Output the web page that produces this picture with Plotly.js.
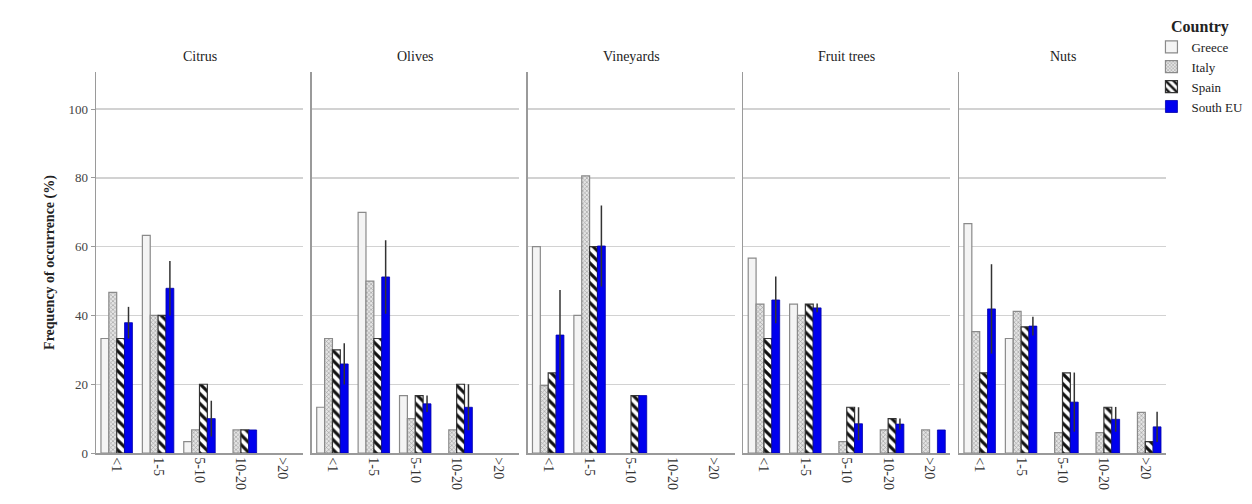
<!DOCTYPE html>
<html>
<head>
<meta charset="utf-8">
<script src="https://cdn.plot.ly/plotly-3.0.1.min.js"></script>
<style>html,body{margin:0;padding:0;background:#fff;}#chart{width:1252px;height:504px;}</style>
</head>
<body>
<div id="chart"></div>
<script>
// Data
const categories = ['<1', '1-5', '5-10', '10-20', '>20'];
const crops = ['Citrus', 'Olives', 'Vineyards', 'Fruit trees', 'Nuts'];
const countries = ['Greece', 'Italy', 'Spain', 'South EU'];
// values per crop (rows) per size class (columns); 0 = no bar
const greece = [
  [33.3, 63.3, 3.3, 0, 0],
  [13.3, 70.0, 16.7, 0, 0],
  [60.0, 40.0, 0, 0, 0],
  [56.7, 43.3, 0, 0, 0],
  [66.7, 33.3, 0, 0, 0]
];
const italy = [
  [46.7, 40.0, 6.7, 6.7, 0],
  [33.3, 50.0, 10.0, 6.7, 0],
  [19.6, 80.6, 0, 0, 0],
  [43.3, 40.0, 3.3, 6.7, 6.7],
  [35.3, 41.2, 5.9, 5.9, 11.8]
];
const spain = [
  [33.3, 40.0, 20.0, 6.7, 0],
  [30.0, 33.3, 16.7, 20.0, 0],
  [23.3, 60.0, 16.7, 0, 0],
  [33.3, 43.3, 13.3, 10.0, 0],
  [23.3, 36.7, 23.3, 13.3, 3.3]
];
const southEU = [
  [37.9, 47.9, 10.0, 6.7, 0],
  [25.9, 51.2, 14.3, 13.3, 0],
  [34.3, 60.2, 16.7, 0, 0],
  [44.5, 42.2, 8.5, 8.4, 6.7],
  [41.9, 36.9, 14.8, 9.8, 7.6]
];
const southEUError = [
  [4.6, 7.9, 5.2, 0, 0],
  [6.0, 10.7, 2.4, 6.7, 0],
  [13.1, 11.8, 0, 0, 0],
  [6.8, 1.3, 4.8, 1.6, 0],
  [13.0, 2.7, 8.6, 3.6, 4.4]
];

const serif = 'Liberation Serif, Times New Roman, serif';
const styles = [
  {color: '#f4f4f4', line: {color: '#8a8a8a', width: 1.2}},
  {color: '#d8d8d8', line: {color: '#8a8a8a', width: 1.2},
   pattern: {shape: 'x', fgcolor: '#9a9a9a', bgcolor: '#e4e4e4', size: 3, solidity: 0.35}},
  {color: '#ffffff', line: {color: '#333333', width: 1.2},
   pattern: {shape: '\\', fgcolor: '#111111', bgcolor: '#ffffff', size: 7, solidity: 0.45}},
  {color: '#0000ee', line: {color: '#0000aa', width: 0.8}}
];
const series = [greece, italy, spain, southEU];

const traces = [];
const layout = {
  width: 1252, height: 504,
  margin: {l: 96, r: 86, t: 72, b: 51, autoexpand: false},
  paper_bgcolor: '#ffffff', plot_bgcolor: '#ffffff',
  barmode: 'group', bargap: 0.24, bargroupgap: 0,
  font: {family: serif, color: '#333', size: 12},
  showlegend: true,
  legend: {
    x: 0.9864, xanchor: 'left', y: 1.16, yanchor: 'top',
    title: {text: '<b>Country</b>', side: 'top center', font: {family: serif, size: 16, color: '#222'}},
    font: {family: serif, size: 13, color: '#222'},
    tracegroupgap: 0, itemwidth: 30, bgcolor: 'rgba(0,0,0,0)'
  },
  annotations: []
};

const panelW = 207 / 1070, step = 215.75 / 1070;
crops.forEach((crop, c) => {
  const xa = c === 0 ? 'x' : 'x' + (c + 1);
  const ya = c === 0 ? 'y' : 'y' + (c + 1);
  const xKey = c === 0 ? 'xaxis' : 'xaxis' + (c + 1);
  const yKey = c === 0 ? 'yaxis' : 'yaxis' + (c + 1);
  const d0 = c * step;
  layout[xKey] = {
    domain: [d0, Math.min(1, d0 + panelW)], anchor: ya,
    type: 'category', categoryorder: 'array', categoryarray: categories,
    tickangle: 90, showline: true, linecolor: '#9a9a9a', linewidth: 1.5,
    ticks: '', showgrid: false, zeroline: false,
    tickfont: {family: serif, size: 14, color: '#333'}, fixedrange: true
  };
  layout[yKey] = {
    domain: [0, 1], anchor: xa, range: [0, 110.8],
    tickvals: [0, 20, 40, 60, 80, 100],
    showticklabels: c === 0, showline: true, linecolor: '#9a9a9a', linewidth: 1.5,
    ticks: c === 0 ? 'outside' : '', ticklen: 4, tickcolor: '#9a9a9a',
    showgrid: true, gridcolor: '#d2d2d2', gridwidth: 1.3, zeroline: false,
    tickfont: {family: serif, size: 13, color: '#444'}, fixedrange: true
  };
  if (c === 0) {
    layout[yKey].title = {text: '<b>Frequency of occurrence (%)</b>', font: {family: serif, size: 14, color: '#222'}, standoff: 10};
  } else {
    layout[yKey].matches = 'y';
  }
  layout.annotations.push({
    text: crop, xref: 'paper', yref: 'paper', x: d0 + panelW / 2, y: 1.04,
    xanchor: 'center', yanchor: 'middle', showarrow: false,
    font: {family: serif, size: 14, color: '#222'}
  });
  series.forEach((s, k) => {
    const tr = {
      type: 'bar', x: categories, y: s[c].map(v => (v === 0 ? null : v)), name: countries[k],
      xaxis: xa, yaxis: ya, legendgroup: countries[k], showlegend: c === 0,
      marker: JSON.parse(JSON.stringify(styles[k])), hoverinfo: 'skip'
    };
    if (k === 3) {
      tr.error_y = {type: 'data', array: southEUError[c], visible: true, color: '#333333', thickness: 1.5, width: 0};
    }
    traces.push(tr);
  });
});

Plotly.newPlot('chart', traces, layout, {staticPlot: true});
</script>
</body>
</html>
